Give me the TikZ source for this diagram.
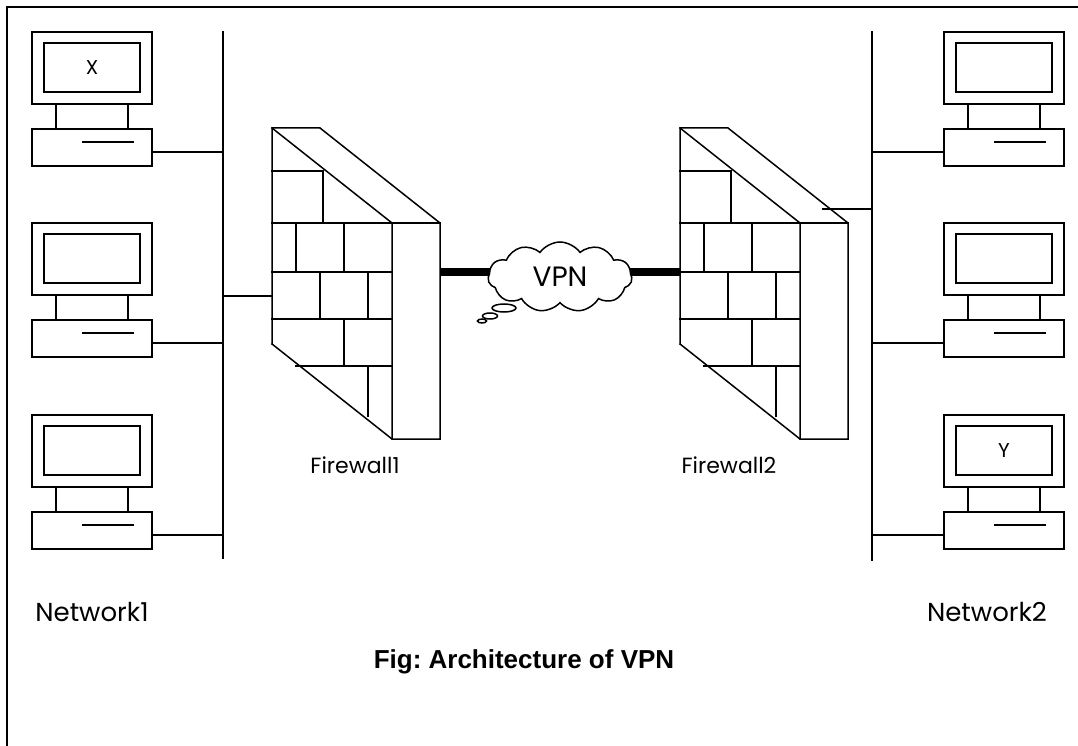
\documentclass[tikz,border=0pt]{standalone}
\usepackage{fontspec}
\setmainfont{Poppins}
\newfontfamily\figfont{Liberation Sans}
\usepackage{tikz}
\usetikzlibrary{shapes.symbols, backgrounds}
\frenchspacing

\tikzset{
  wire/.style={line width=1.5pt, line cap=rect},
  tunnel/.style={line width=8pt},
  lbl/.style={font=\fontsize{26}{30}\selectfont, inner sep=0pt},
  pics/pc/.style={code={
    \draw[wire] (0,0) rectangle (120,72);
    \draw[wire] (12,11) rectangle (108,60);
    \draw[wire] (24,72) -- (24,97) (96,72) -- (96,97);
    \draw[wire] (0,97) rectangle (120,134);
    \draw[wire] (51,110) -- (101,110);
    \node[font=\fontsize{20}{22}\selectfont, inner sep=0pt] (-screen) at (60,36) {#1};
    \coordinate (-lport) at (0,120);
    \coordinate (-rport) at (120,120);
  }},
  pics/firewall/.style={code={
    % outline
    \draw[wire, line join=miter] (0,216) -- (0,0) -- (48,0) -- (168,95) -- (168,311)
      -- (120,311) -- (0,216);
    \draw[wire] (0,0) -- (120,95) -- (120,311);
    \draw[wire] (120,95) -- (168,95);
    % bricks
    \draw[wire] (0,43) -- (51,43) -- (51,95);
    \draw[wire] (0,95) -- (120,95);
    \draw[wire] (0,144) -- (120,144);
    \draw[wire] (0,191) -- (120,191);
    \draw[wire] (24,238) -- (120,238);
    \draw[wire] (24,95) -- (24,144) (72,95) -- (72,144);
    \draw[wire] (48,144) -- (48,191) (96,144) -- (96,191);
    \draw[wire] (72,191) -- (72,238);
    \draw[wire] (96,238) -- (96,288);
    \coordinate (-in) at (0,168);
    \coordinate (-west) at (0,144);
    \coordinate (-east) at (168,144);
    \coordinate (-lid) at (143,81);
  }}
}

\begin{document}
\begin{tikzpicture}[x=1pt,y=-1pt]
  \path[use as bounding box] (0,0) rectangle (1078,746);
  \draw[wire] (7,746) -- (7,7) -- (1078,7);

  % Network1
  \pic (pcA) at (32,32) {pc=X};
  \pic (pcB) at (32,223) {pc=};
  \pic (pcC) at (32,415) {pc=};
  \coordinate (bus1-top) at (223,32);
  \coordinate (bus1-bot) at (223,558);
  \draw[wire] (bus1-top) -- (bus1-bot);
  \foreach \n in {pcA,pcB,pcC}
    \draw[wire] (\n-rport) -- (\n-rport -| bus1-top);

  % Network2
  \pic (pcD) at (944,32) {pc=};
  \pic (pcE) at (944,223) {pc=};
  \pic (pcF) at (944,415) {pc=Y};
  \coordinate (bus2-top) at (872,32);
  \coordinate (bus2-bot) at (872,560);
  \draw[wire] (bus2-top) -- (bus2-bot);
  \foreach \n in {pcD,pcE,pcF}
    \draw[wire] (\n-lport) -- (\n-lport -| bus2-top);

  % firewalls
  \pic (fw1) at (272,128) {firewall};
  \pic (fw2) at (680,128) {firewall};
  \draw[wire] (fw1-in -| bus1-top) -- (fw1-in);
  \draw[wire] (fw2-lid) -- (fw2-lid -| bus2-top);

  % tunnel
  \draw[wire, fill=white] (504,308) ellipse [x radius=12, y radius=4];
  \draw[wire, fill=white] (490,316) ellipse [x radius=7.5, y radius=3];
  \draw[wire, fill=white] (482,321) ellipse [x radius=4.5, y radius=2];
  \node[cloud, draw, line width=1.5pt, fill=white, cloud puffs=11, cloud puff arc=110,
        aspect=2.1, minimum width=144pt, minimum height=70pt, inner sep=0pt,
        font=\fontsize{28}{30}\selectfont] (vpn) at (560,277) {VPN};
  \begin{scope}[on background layer]
    \draw[tunnel] (fw1-east) -- (fw1-east -| vpn.center);
    \draw[tunnel] (fw2-west) -- (fw2-west -| vpn.center);
  \end{scope}

  % labels
  \node[lbl, font=\fontsize{22}{26}\selectfont] (fw1-name) at (355,465) {Firewall1};
  \node[lbl, font=\fontsize{22}{26}\selectfont] (fw2-name) at (729,465) {Firewall2};
  \node[lbl] (net1-name) at (92,612) {Network1};
  \node[lbl] (net2-name) at (987,612) {Network2};
  \node[inner sep=0pt, font=\figfont\bfseries\fontsize{26}{30}\selectfont] (caption)
    at (524,662) {Fig: Architecture of VPN};
\end{tikzpicture}
\end{document}
